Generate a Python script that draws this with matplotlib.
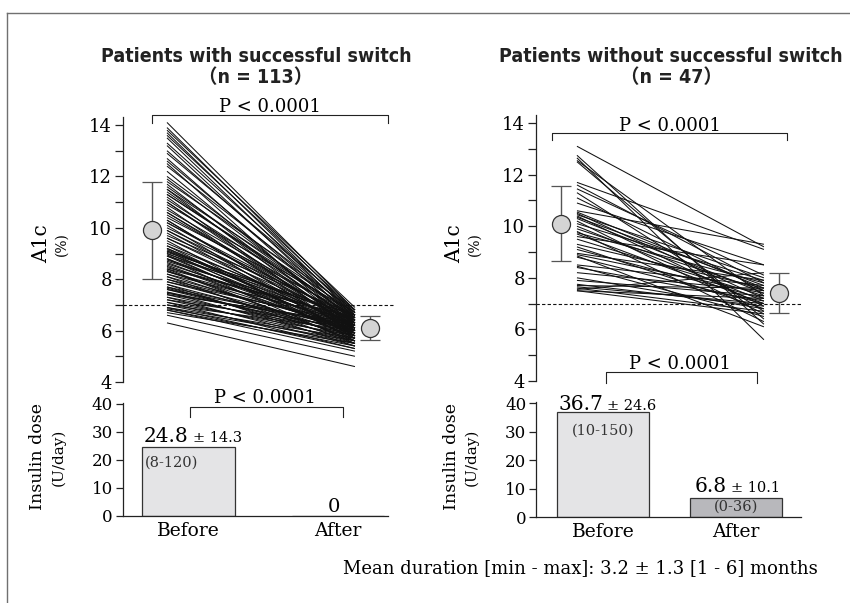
import numpy as np
import matplotlib
matplotlib.use("Agg")
import matplotlib.pyplot as plt
from matplotlib.lines import Line2D

# A1c (%) before / after, patients with successful switch (n = 113)
ok_before = [14.1, 13.9, 13.8, 13.7, 13.6, 13.5, 13.3, 13.2, 13.0, 12.9, 12.7, 12.6, 12.4, 12.2, 12.0,
             11.9, 11.8, 11.7, 11.6, 11.5, 11.5, 11.4, 11.3, 11.2, 11.1, 11.0, 10.9, 10.8, 10.7, 10.6, 10.5,
             10.4, 10.3, 10.2, 10.2, 10.1, 10.0, 9.9, 9.9, 9.8, 9.7, 9.6, 9.5,
             9.3, 9.2, 9.2, 9.1, 9.1, 9.0, 9.0, 8.9, 8.9, 8.8, 8.8, 8.7, 8.6,
             8.5, 8.4, 8.4, 8.3, 8.3, 8.2, 8.2, 8.1, 8.1, 8.0, 8.0, 7.9, 7.9, 7.8, 7.8,
             7.7, 7.7, 7.6, 7.6, 7.5, 7.5, 7.4, 7.4, 7.3, 7.3, 7.2, 7.2, 7.1, 7.1, 7.0, 7.0,
             6.9, 6.9, 6.85, 6.8, 6.8, 6.7, 6.6, 6.3,
             11.3, 11.0, 10.6, 10.3, 9.6, 9.4, 9.3, 9.15, 9.05, 8.95, 8.75, 8.65, 8.55, 8.45, 8.35, 7.65, 7.45, 12.5]
ok_after = [6.8, 6.7, 6.9, 6.6, 6.8, 6.5, 6.7, 6.4, 6.6, 6.8, 6.3, 6.5, 6.7, 6.2, 6.6,
            6.4, 6.8, 6.1, 6.5, 6.7, 6.0, 6.3, 6.6, 5.9, 6.4, 6.2, 6.7, 5.8, 6.5, 6.1, 6.3,
            6.6, 5.9, 6.4, 6.2, 5.7, 6.5, 6.0, 6.3, 5.8, 6.6, 6.1, 5.6,
            6.4, 6.2, 5.9, 6.5, 5.7, 6.3, 6.0, 6.6, 5.8, 6.1, 5.5, 6.4, 6.2,
            5.9, 6.5, 5.6, 6.3, 6.0, 5.8, 6.4, 6.1, 5.5, 6.2, 5.7, 6.0, 6.3, 5.4, 5.9,
            6.1, 5.6, 6.2, 5.8, 6.0, 5.5, 6.3, 5.7, 5.9, 5.4, 6.1, 5.6, 5.8, 5.3, 6.0, 5.5,
            5.7, 5.3, 5.6, 5.4, 5.2, 5.5, 5.0, 4.6,
            6.5, 6.0, 6.3, 5.9, 6.4, 6.2, 5.8, 6.1, 6.6, 5.7, 6.3, 6.0, 5.9, 6.5, 5.6, 5.8, 6.2, 6.0]

# patients without successful switch (n = 47)
ng_before = [13.1, 12.75, 12.65, 12.55, 12.5, 11.7, 11.6, 11.45, 11.3, 11.1,
             10.9, 10.6, 10.55, 10.5, 10.45, 10.4, 10.35, 10.3, 10.2, 10.1,
             10.0, 9.9, 9.8, 9.75, 9.7, 9.6, 9.5, 9.3, 9.2, 9.1,
             8.95, 8.9, 8.85, 8.8, 8.5, 8.45, 8.4, 8.2, 8.0, 7.9,
             7.75, 7.7, 7.65, 7.6, 7.5, 7.5, 7.55]
ng_after = [9.2, 6.2, 5.6, 7.3, 6.4, 9.1, 7.8, 8.1, 6.7, 7.5,
            8.5, 9.3, 7.6, 7.2, 8.0, 6.9, 7.7, 7.4, 6.6, 7.9,
            7.1, 7.5, 6.3, 7.8, 7.0, 8.5, 7.3, 7.6, 6.8, 7.2,
            7.9, 7.4, 6.1, 7.0, 7.7, 6.5, 7.1, 7.5, 6.8, 7.3,
            6.9, 7.6, 7.0, 6.7, 7.2, 6.6, 8.2]

a1c_mean_ok = [9.9, 6.1]
a1c_sd_ok = [1.9, 0.45]
a1c_mean_ng = [10.1, 7.4]
a1c_sd_ng = [1.45, 0.77]
a1c_target = 7.0

dose_labels = ["Before", "After"]
dose_ok = [24.8, 0.0]
dose_sd_ok = ["± 14.3", ""]
dose_range_ok = ["(8-120)", ""]
dose_ng = [36.7, 6.8]
dose_sd_ng = ["± 24.6", "± 10.1"]
dose_range_ng = ["(10-150)", "(0-36)"]

p_text = "P < 0.0001"
footnote = "Mean duration [min - max]: 3.2 ± 1.3 [1 - 6] months"

W, H = 850, 603
SERIF = "DejaVu Serif"
TITLE_FONT = ["DejaVu Sans", "Noto Sans CJK JP"]


def box(left, top, right, bottom):
    return [left / W, 1 - bottom / H, (right - left) / W, (bottom - top) / H]


def fxy(x, y):
    return x / W, 1 - y / H


def bracket(ax, x0, x1, ytop, ylow, label, ylab, xlab):
    ax.plot([x0, x0, x1, x1], [ylow, ytop, ytop, ylow], color="#222222", lw=0.8, clip_on=False)
    ax.text(xlab, ylab, label, ha="center", va="baseline", family=SERIF, fontsize=13, clip_on=False)


def a1c_panel(ax, before, after, mean, sd, mpos, xlim):
    n = len(before)
    xs = np.vstack([np.ones(n), np.full(n, 2.0)])
    ys = np.vstack([before, after])
    ax.plot(xs, ys, color="#111111", lw=0.75, solid_capstyle="butt")
    ax.axhline(a1c_target, color="#111111", lw=0.8, ls=(0, (3, 2)))
    ax.errorbar(mpos, mean, yerr=sd, fmt="o", ms=13, mfc="#d4d4d4", mec="#333333", mew=0.9,
                ecolor="#555555", elinewidth=1.0, capsize=7.5, capthick=1.0, zorder=5)
    ax.set_xlim(*xlim)
    ax.set_ylim(4, 14.3)
    for s in ["top", "right", "bottom"]:
        ax.spines[s].set_visible(False)
    ax.spines["left"].set_linewidth(0.9)
    ax.spines["left"].set_color("#222222")
    ax.set_yticks([4, 6, 8, 10, 12, 14])
    ax.set_yticks([5, 7, 9, 11, 13], minor=True)
    ax.tick_params(axis="y", which="both", direction="out", length=6, width=0.9, color="#222222",
                   labelsize=13, pad=2)
    ax.set_xticks([])
    for t in ax.get_yticklabels():
        t.set_family(SERIF)


def dose_panel(ax, values, colors, width, xlim):
    x = np.arange(len(values))
    ax.bar(x, values, width=width, color=colors, edgecolor="#333333", linewidth=0.9)
    ax.set_xlim(*xlim)
    ax.set_ylim(0, 40.5)
    for s in ["top", "right"]:
        ax.spines[s].set_visible(False)
    for s in ["left", "bottom"]:
        ax.spines[s].set_linewidth(0.9)
        ax.spines[s].set_color("#222222")
    ax.set_yticks([0, 10, 20, 30, 40])
    ax.tick_params(axis="y", direction="out", length=5, width=0.9, color="#222222", labelsize=12, pad=2)
    ax.set_xticks(x)
    ax.set_xticklabels(dose_labels)
    ax.tick_params(axis="x", length=0, labelsize=13.5, pad=4)
    for t in ax.get_yticklabels() + ax.get_xticklabels():
        t.set_family(SERIF)


def mean_sd(ax, xsplit, y, mean, sd):
    ax.text(xsplit, y, f"{mean:.1f}", ha="right", va="baseline", family=SERIF, fontsize=14.5)
    ax.text(xsplit + 0.03, y, sd, ha="left", va="baseline", family=SERIF, fontsize=10.5)


fig = plt.figure(figsize=(W / 100, H / 100), dpi=100)

# outer frame (only left and top edges visible in the crop)
fig.add_artist(Line2D([7.3 / W, 7.3 / W], [0, 1 - 12.7 / H], color="#707070", lw=1.0))
fig.add_artist(Line2D([7.3 / W, 1.0], [1 - 12.7 / H, 1 - 12.7 / H], color="#707070", lw=1.0))

# --- left: successful switch
ax1 = fig.add_axes(box(123, 117.3, 395, 382))
a1c_panel(ax1, ok_before, ok_after, a1c_mean_ok, a1c_sd_ok, [0.92, 2.08], (0.766, 2.213))
bracket(ax1, 0.92, 2.176, 14.39, 14.08, p_text, 14.51, 1.548)

ax2 = fig.add_axes(box(122.7, 402.6, 388, 516))
dose_panel(ax2, dose_ok, ["#e4e4e6", "#e4e4e6"], 0.62, (-0.44, 1.334))
bracket(ax2, 0.01, 1.03, 38.9, 35.4, p_text, 40.4, 0.51)
mean_sd(ax2, 0.0, 26.4, dose_ok[0], dose_sd_ok[0])
ax2.text(-0.11, 19.0, dose_range_ok[0], ha="center", va="center", family=SERIF, fontsize=10.5, color="#333333")
ax2.text(0.97, 3.2, f"{dose_ok[1]:.0f}", ha="center", va="center", family=SERIF, fontsize=14)

# --- right: without successful switch
ax3 = fig.add_axes(box(536, 115.3, 803, 381))
a1c_panel(ax3, ng_before, ng_after, a1c_mean_ng, a1c_sd_ng, [0.914, 2.08], (0.781, 2.209))
bracket(ax3, 0.866, 2.123, 13.61, 13.34, p_text, 13.68, 1.497)

ax4 = fig.add_axes(box(536, 401.6, 801, 517))
dose_panel(ax4, dose_ng, ["#e4e4e6", "#b8b8bc"], 0.69, (-0.504, 1.489))
bracket(ax4, 0.02, 1.16, 50.9, 47.0, p_text, 51.9, 0.58)
mean_sd(ax4, 0.0, 37.5, dose_ng[0], dose_sd_ng[0])
mean_sd(ax4, 0.93, 8.9, dose_ng[1], dose_sd_ng[1])
ax4.text(0.0, 30.3, dose_range_ng[0], ha="center", va="center", family=SERIF, fontsize=10.5, color="#333333")
ax4.text(1.0, 3.6, dose_range_ng[1], ha="center", va="center", family=SERIF, fontsize=10.5, color="#333333")

# titles (narrow bold sans in the original)
for cx, title, n in [(256, "Patients with successful switch", "（n = 113）"),
                     (671, "Patients without successful switch", "（n = 47）")]:
    fig.text(*fxy(cx, 62), title, ha="center", va="baseline", family=TITLE_FONT,
             fontsize=14, fontweight="bold", fontstretch="condensed", color="#222222")
    fig.text(*fxy(cx, 83), n, ha="center", va="baseline", family=TITLE_FONT,
             fontsize=14, fontweight="bold", fontstretch="condensed", color="#222222")

# y labels
for axx in [123, 536]:
    fig.text(*fxy(axx - 81, 244), "A1c", rotation=90, ha="center", va="center", family=SERIF, fontsize=14.5)
    fig.text(*fxy(axx - 61, 244), "(%)", rotation=90, ha="center", va="center", family=SERIF, fontsize=10)
    fig.text(*fxy(axx - 85, 457), "Insulin dose", rotation=90, ha="center", va="center", family=SERIF, fontsize=12.5)
    fig.text(*fxy(axx - 64, 457), "(U/day)", rotation=90, ha="center", va="center", family=SERIF, fontsize=11)

fig.text(*fxy(818, 573), footnote, ha="right", va="baseline", family=SERIF, fontsize=13)

fig.savefig("out.png", dpi=100)
